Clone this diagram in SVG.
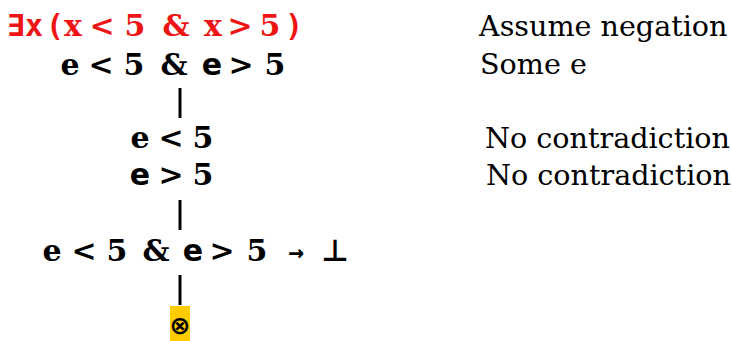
<svg xmlns="http://www.w3.org/2000/svg" width="732" height="341" viewBox="0 0 732 341">
<style>
.f{font-family:"DejaVu Serif","Liberation Serif",serif;font-size:30px;font-weight:bold;fill:#000;text-anchor:middle}
.s{font-family:"DejaVu Sans","Liberation Sans",sans-serif}
.m{font-family:"DejaVu Sans Mono","Liberation Mono",monospace}
.red{fill:#f01515}
.note{font-family:"DejaVu Serif","Liberation Serif",serif;font-size:28.6px;fill:#000}
.conn line{stroke:#000;stroke-width:3}
</style>
<rect width="732" height="341" fill="#fff"/>
<g id="n1"><text class="f red" xml:space="preserve" x="16 34 55 73 88 102 118 135 155 176 195 213 227 240 255 270 294" y="36"><tspan class="m">∃x(</tspan>x &lt; 5 &amp; x &gt; 5<tspan class="m">)</tspan></text></g>
<g id="n2"><text class="f" xml:space="preserve" x="70 85 101 118 134 154 174 193 212 227 241 258 275" y="75">e &lt; 5 &amp; <tspan class="s">e</tspan> &gt; 5</text></g>
<g id="n3"><text class="f" xml:space="preserve" x="140 155 171 187 203" y="148">e &lt; 5</text></g>
<g id="n4"><text class="f" xml:space="preserve" x="140 155 171 187 203" y="185"><tspan class="s">e</tspan> &gt; 5</text></g>
<g id="n5"><text class="f" xml:space="preserve" x="52 68 84 100 117 136 156 175 193 208 222 240 257 276 296 315 335" y="261">e &lt; 5 &amp; <tspan class="s">e</tspan> &gt; 5 <tspan class="m" font-size="26">→</tspan> <tspan class="s">⊥</tspan></text></g>
<g id="n6"><rect x="170" y="306" width="20" height="35" fill="#ffcc00"/><text x="180" y="334" font-family="DejaVu Sans,sans-serif" font-size="25" font-weight="bold" text-anchor="middle" fill="#000">⊗</text></g>
<g id="notes">
<text class="note" x="479" y="36">Assume negation</text>
<text class="note" x="480" y="74">Some e</text>
<text class="note" x="485" y="148">No contradiction</text>
<text class="note" x="486" y="185">No contradiction</text>
</g>
<g class="conn">
<line x1="180" y1="88" x2="180" y2="118"/>
<line x1="180" y1="200" x2="180" y2="230"/>
<line x1="180" y1="275" x2="180" y2="305"/>
</g>
</svg>
